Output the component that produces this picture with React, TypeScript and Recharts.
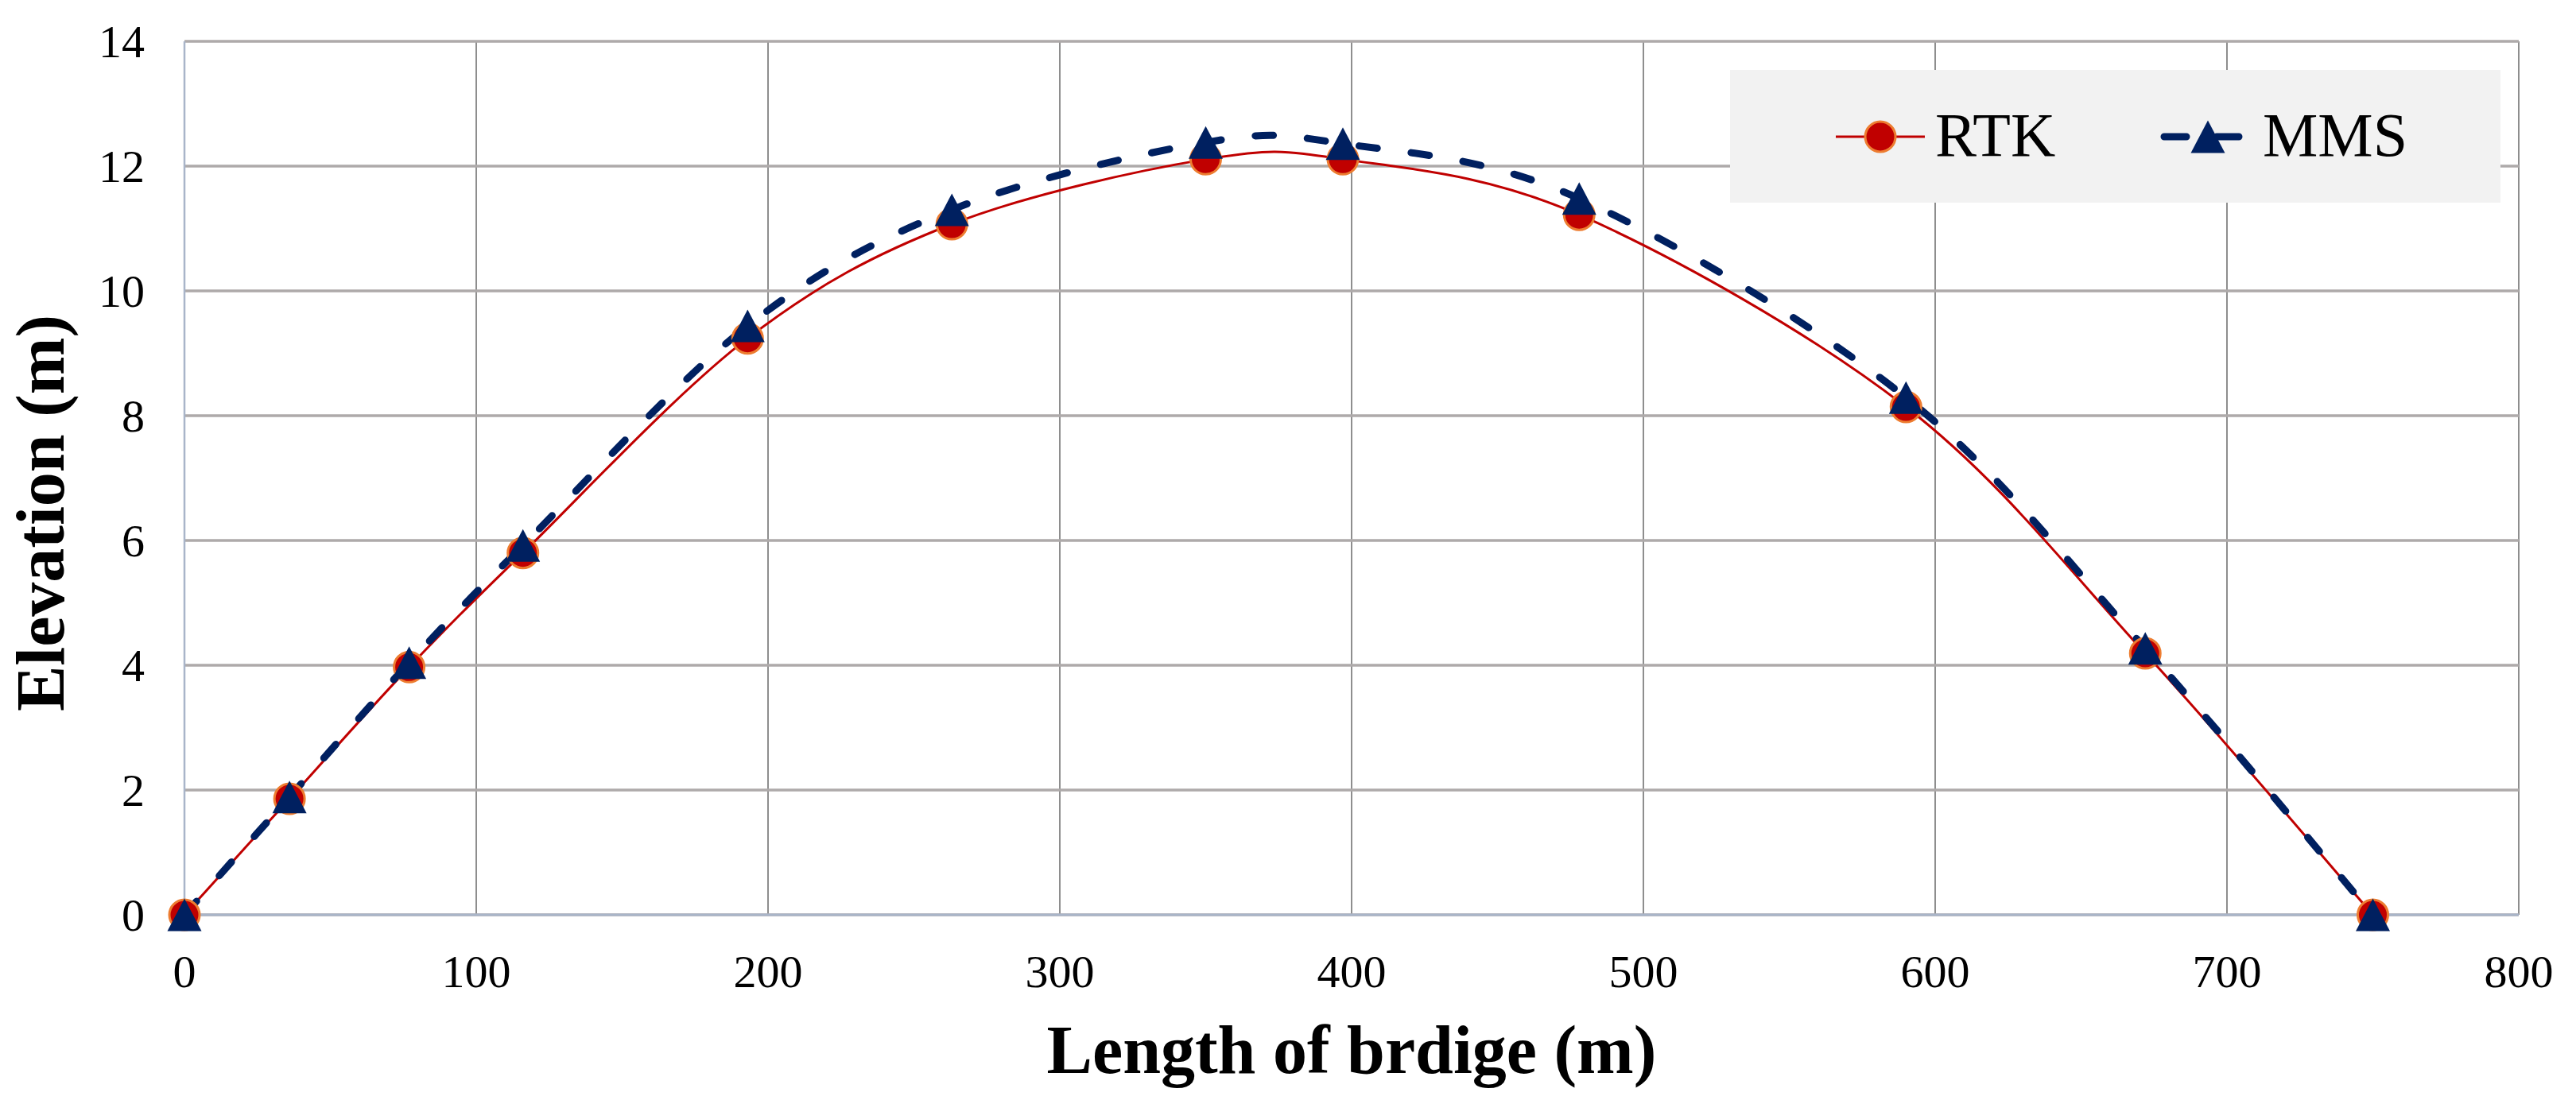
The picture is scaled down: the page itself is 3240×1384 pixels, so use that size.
import React from "react";
import { LineChart, Line, XAxis, YAxis, CartesianGrid, Legend } from "recharts";

// bridge profile, elevation (m) along length (m)
const lengths = [0, 36, 77, 116, 193, 263, 350, 397, 478, 590, 672, 750];
const rtkElev = [0, 1.86, 3.97, 5.8, 9.24, 11.07, 12.11, 12.11, 11.22, 8.14, 4.19, 0];
const mmsElev = [0, 1.89, 4.04, 5.92, 9.44, 11.3, 12.38, 12.36, 11.48, 8.29, 4.27, 0];
const xTicks = [0, 100, 200, 300, 400, 500, 600, 700, 800];
const yTicks = [0, 2, 4, 6, 8, 10, 12, 14];
const legendOrder = ["RTK", "MMS"];

const data = lengths.map((x, i) => ({ x, RTK: rtkElev[i], MMS: mmsElev[i] }));

const FONT = '"Liberation Serif", "Times New Roman", serif';
const RED = "#c00000";
const ORANGE = "#ed7d31";
const NAVY = "#002060";

// Excel style smoothing (cardinal bezier, 1/6 tension)
function excelSmooth(context: any) {
  let pts: number[][] = [];
  return {
    areaStart() {},
    areaEnd() {},
    lineStart() {
      pts = [];
    },
    point(x: number, y: number) {
      pts.push([+x, +y]);
    },
    lineEnd() {
      if (!pts.length) return;
      context.moveTo(pts[0][0], pts[0][1]);
      for (let i = 0; i < pts.length - 1; i++) {
        const p0 = pts[i - 1] || pts[i];
        const p1 = pts[i];
        const p2 = pts[i + 1];
        const p3 = pts[i + 2] || pts[i + 1];
        context.bezierCurveTo(
          p1[0] + (p2[0] - p0[0]) / 6,
          p1[1] + (p2[1] - p0[1]) / 6,
          p2[0] - (p3[0] - p1[0]) / 6,
          p2[1] - (p3[1] - p1[1]) / 6,
          p2[0],
          p2[1]
        );
      }
    },
  };
}

const circleDot = (props: any) => {
  const { cx, cy, index } = props;
  return <circle key={`rtk-${index}`} cx={cx} cy={cy} r={19} fill={RED} stroke={ORANGE} strokeWidth={3} />;
};

const triPath = (cx: number, cy: number) =>
  `M${cx},${cy - 20.5} L${cx + 21.5},${cy + 20.5} L${cx - 21.5},${cy + 20.5} Z`;

const triangleDot = (props: any) => {
  const { cx, cy, index } = props;
  return <path key={`mms-${index}`} d={triPath(cx, cy)} fill={NAVY} />;
};

const XTick = (props: any) => {
  const { x, y, payload } = props;
  return (
    <text x={x} y={y} dy={91} textAnchor="middle" fontFamily={FONT} fontSize={58} fill="#000">
      {payload.value}
    </text>
  );
};

const YTick = (props: any) => {
  const { x, y, payload } = props;
  return (
    <text x={x} y={y} dx={-50} dy={20} textAnchor="end" fontFamily={FONT} fontSize={58} fill="#000">
      {payload.value}
    </text>
  );
};

const YTitle = (props: any) => {
  const { viewBox } = props;
  const cy = viewBox.y + viewBox.height / 2 + 44;
  return (
    <text
      transform={`translate(${viewBox.x + 80}, ${cy}) rotate(-90)`}
      textAnchor="middle"
      fontFamily={FONT}
      fontSize={86}
      fontWeight="bold"
      fill="#000"
    >
      Elevation (m)
    </text>
  );
};

const legendSlots = [
  { lineFrom: 133, lineTo: 245, mark: 189, text: 258 },
  { lineFrom: 546, lineTo: 640, mark: 601, text: 670 },
];

const LegendBox = (props: any) => {
  const items = [...(props.payload || [])].sort(
    (a: any, b: any) => legendOrder.indexOf(a.value) - legendOrder.indexOf(b.value)
  );
  return (
    <svg width={969} height={167} style={{ display: "block" }}>
      <rect width={969} height={167} fill="#f2f2f2" />
      {items.map((item: any, i: number) => {
        const s = legendSlots[i];
        const isRtk = item.value === "RTK";
        return (
          <g key={item.value}>
            {isRtk ? (
              <>
                <line x1={s.lineFrom} x2={s.lineTo} y1={84} y2={84} stroke={RED} strokeWidth={3} />
                <circle cx={s.mark} cy={84} r={19} fill={RED} stroke={ORANGE} strokeWidth={3} />
              </>
            ) : (
              <>
                <line
                  x1={s.lineFrom}
                  x2={s.lineTo}
                  y1={84}
                  y2={84}
                  stroke={NAVY}
                  strokeWidth={9}
                  strokeLinecap="round"
                  strokeDasharray="28 38"
                />
                <path d={triPath(s.mark, 84)} fill={NAVY} />
              </>
            )}
            <text x={s.text} y={108} fontFamily={FONT} fontSize={78} fill="#000">
              {item.value}
            </text>
          </g>
        );
      })}
    </svg>
  );
};

export default function App() {
  return (
    <div style={{ position: "absolute", left: 0, top: 0, background: "#fff" }}>
      <LineChart width={3240} height={1384} data={data} margin={{ top: 52, right: 72, left: 0, bottom: 0 }}>
        <CartesianGrid horizontal={false} stroke="#8e8e8e" strokeWidth={2} />
        <CartesianGrid vertical={false} stroke="#aeaaaa" strokeWidth={3.5} />
        <XAxis
          dataKey="x"
          type="number"
          domain={[0, 800]}
          ticks={xTicks}
          height={233}
          tickSize={0}
          tickMargin={0}
          tick={<XTick />}
          axisLine={{ stroke: "#a9b5c9", strokeWidth: 3 }}
          label={{
            value: "Length of brdige (m)",
            position: "insideBottom",
            offset: 34,
            style: { fontFamily: FONT, fontSize: 86, fontWeight: "bold", fill: "#000" },
          }}
        />
        <YAxis
          type="number"
          domain={[0, 14]}
          ticks={yTicks}
          width={232}
          tickSize={0}
          tickMargin={0}
          tick={<YTick />}
          axisLine={{ stroke: "#a9b5c9", strokeWidth: 2.5 }}
          label={<YTitle />}
        />
        <Legend
          layout="horizontal"
          verticalAlign="middle"
          align="center"
          content={<LegendBox />}
          wrapperStyle={{ left: 2176, top: 88, width: 969, height: 167 }}
        />
        <Line
          dataKey="RTK"
          type={excelSmooth as any}
          stroke={RED}
          strokeWidth={3}
          dot={circleDot}
          activeDot={false}
          isAnimationActive={false}
        />
        <Line
          dataKey="MMS"
          type={excelSmooth as any}
          stroke={NAVY}
          strokeWidth={9}
          strokeLinecap="round"
          strokeDasharray="23 43"
          dot={triangleDot}
          activeDot={false}
          isAnimationActive={false}
        />
      </LineChart>
    </div>
  );
}
